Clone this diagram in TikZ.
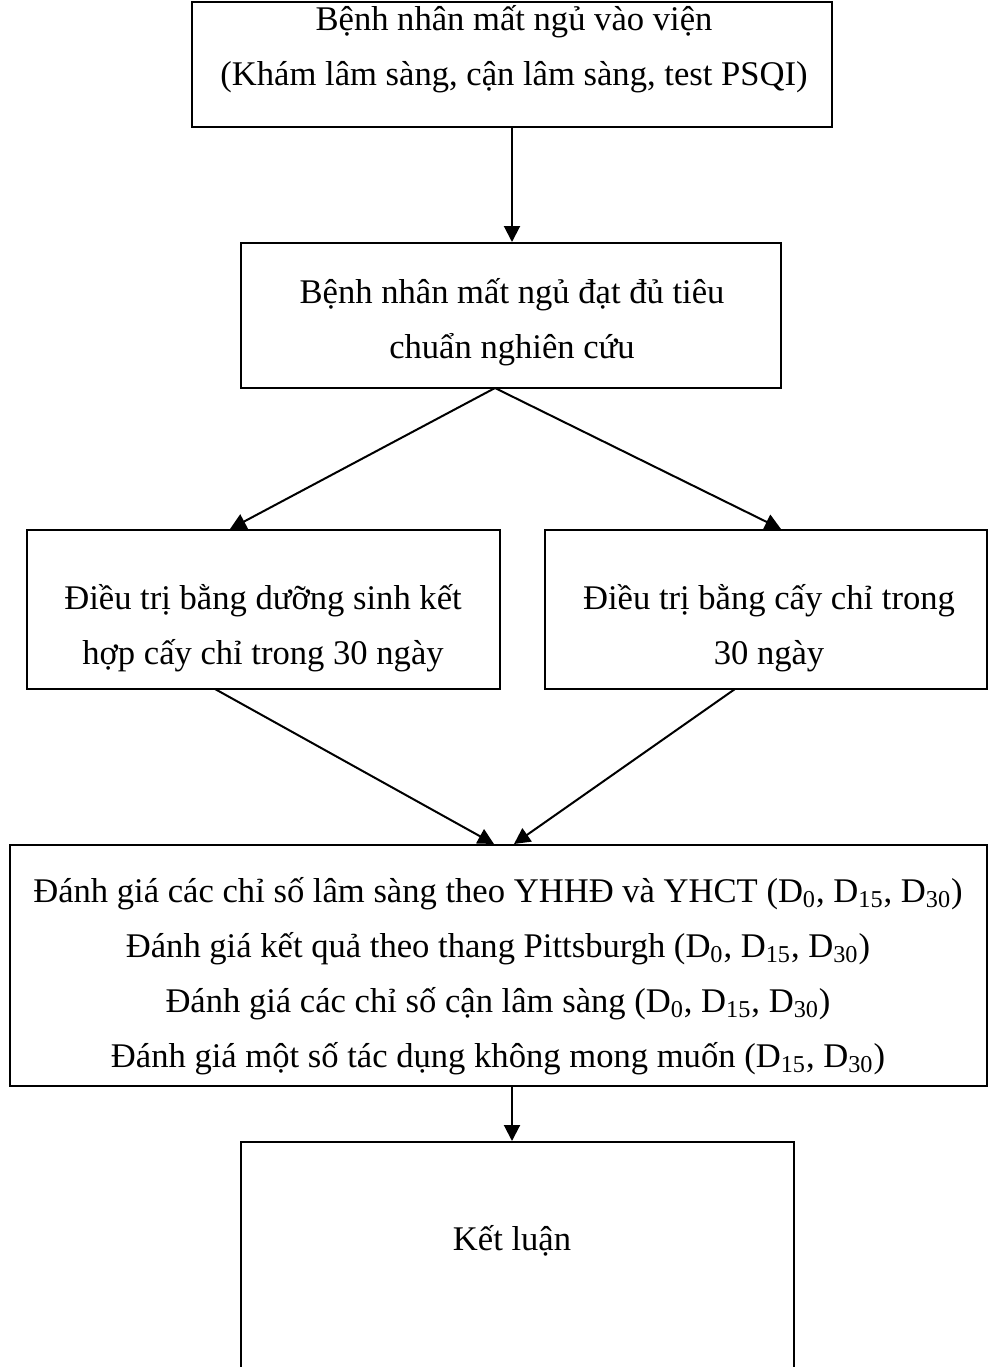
\documentclass[tikz,border=0pt]{standalone}
\usepackage{fontspec}
\setmainfont{Liberation Serif}
\usetikzlibrary{arrows.meta}

\begin{document}
\begin{tikzpicture}[x=0.5pt,y=-0.5pt,
  box/.style={draw,line width=1pt,inner sep=0pt},
  txt/.style={align=center,inner sep=0pt,font=\fontsize{17.3}{27.5}\selectfont},
  arr/.style={line width=1pt,-{Triangle[length=8pt,width=8pt]}}]
\useasboundingbox (0,0) rectangle (988,1367);

%boxes
\node[box,minimum width=320pt,minimum height=62.5pt] (b1) at (512,64.5) {};
\node[box,minimum width=270pt,minimum height=72.5pt] (b2) at (511,315.5) {};
\node[box,minimum width=236.5pt,minimum height=79.5pt] (b3) at (263.5,609.5) {};
\node[box,minimum width=221pt,minimum height=79.5pt] (b4) at (766,609.5) {};
\node[box,minimum width=488.5pt,minimum height=120.5pt] (b5) at (498.5,965.5) {};
\node[box,minimum width=276.5pt,minimum height=116pt] (b6) at (517.5,1258) {};

%texts
\node[txt] (t1) at (514,49) {Bệnh nhân mất ngủ vào viện\\(Khám lâm sàng, cận lâm sàng, test PSQI)};
\node[txt] (t2) at (512,322) {Bệnh nhân mất ngủ đạt đủ tiêu\\chuẩn nghiên cứu};
\node[txt] (t3) at (263,628) {Điều trị bằng dưỡng sinh kết\\hợp cấy chỉ trong 30 ngày};
\node[txt] (t4) at (769,628) {Điều trị bằng cấy chỉ trong\\30 ngày};
\node[txt] (t5) at (498,976) {Đánh giá các chỉ số lâm sàng theo YHHĐ và YHCT (D\textsubscript{0}, D\textsubscript{15}, D\textsubscript{30})\\
Đánh giá kết quả theo thang Pittsburgh (D\textsubscript{0}, D\textsubscript{15}, D\textsubscript{30})\\
Đánh giá các chỉ số cận lâm sàng (D\textsubscript{0}, D\textsubscript{15}, D\textsubscript{30})\\
Đánh giá một số tác dụng không mong muốn (D\textsubscript{15}, D\textsubscript{30})};
\node[txt] (t6) at (512,1241) {Kết luận};

%split and end points
\coordinate (s2) at (495,388);
\coordinate (e3) at (230,529);
\coordinate (e4) at (781,529);
\coordinate (s3) at (215,689);
\coordinate (s4) at (735,689);
\coordinate (e5l) at (494,844);
\coordinate (e5r) at (514,844);

\draw[arr] (b1.south -| 512,0) -- (b2.north -| 512,0);
\draw[arr] (s2) -- (e3);
\draw[arr] (s2) -- (e4);
\draw[arr] (s3) -- (e5l);
\draw[arr] (s4) -- (e5r);
\draw[arr] (b5.south -| 512,0) -- (b6.north -| 512,0);

\end{tikzpicture}
\end{document}
